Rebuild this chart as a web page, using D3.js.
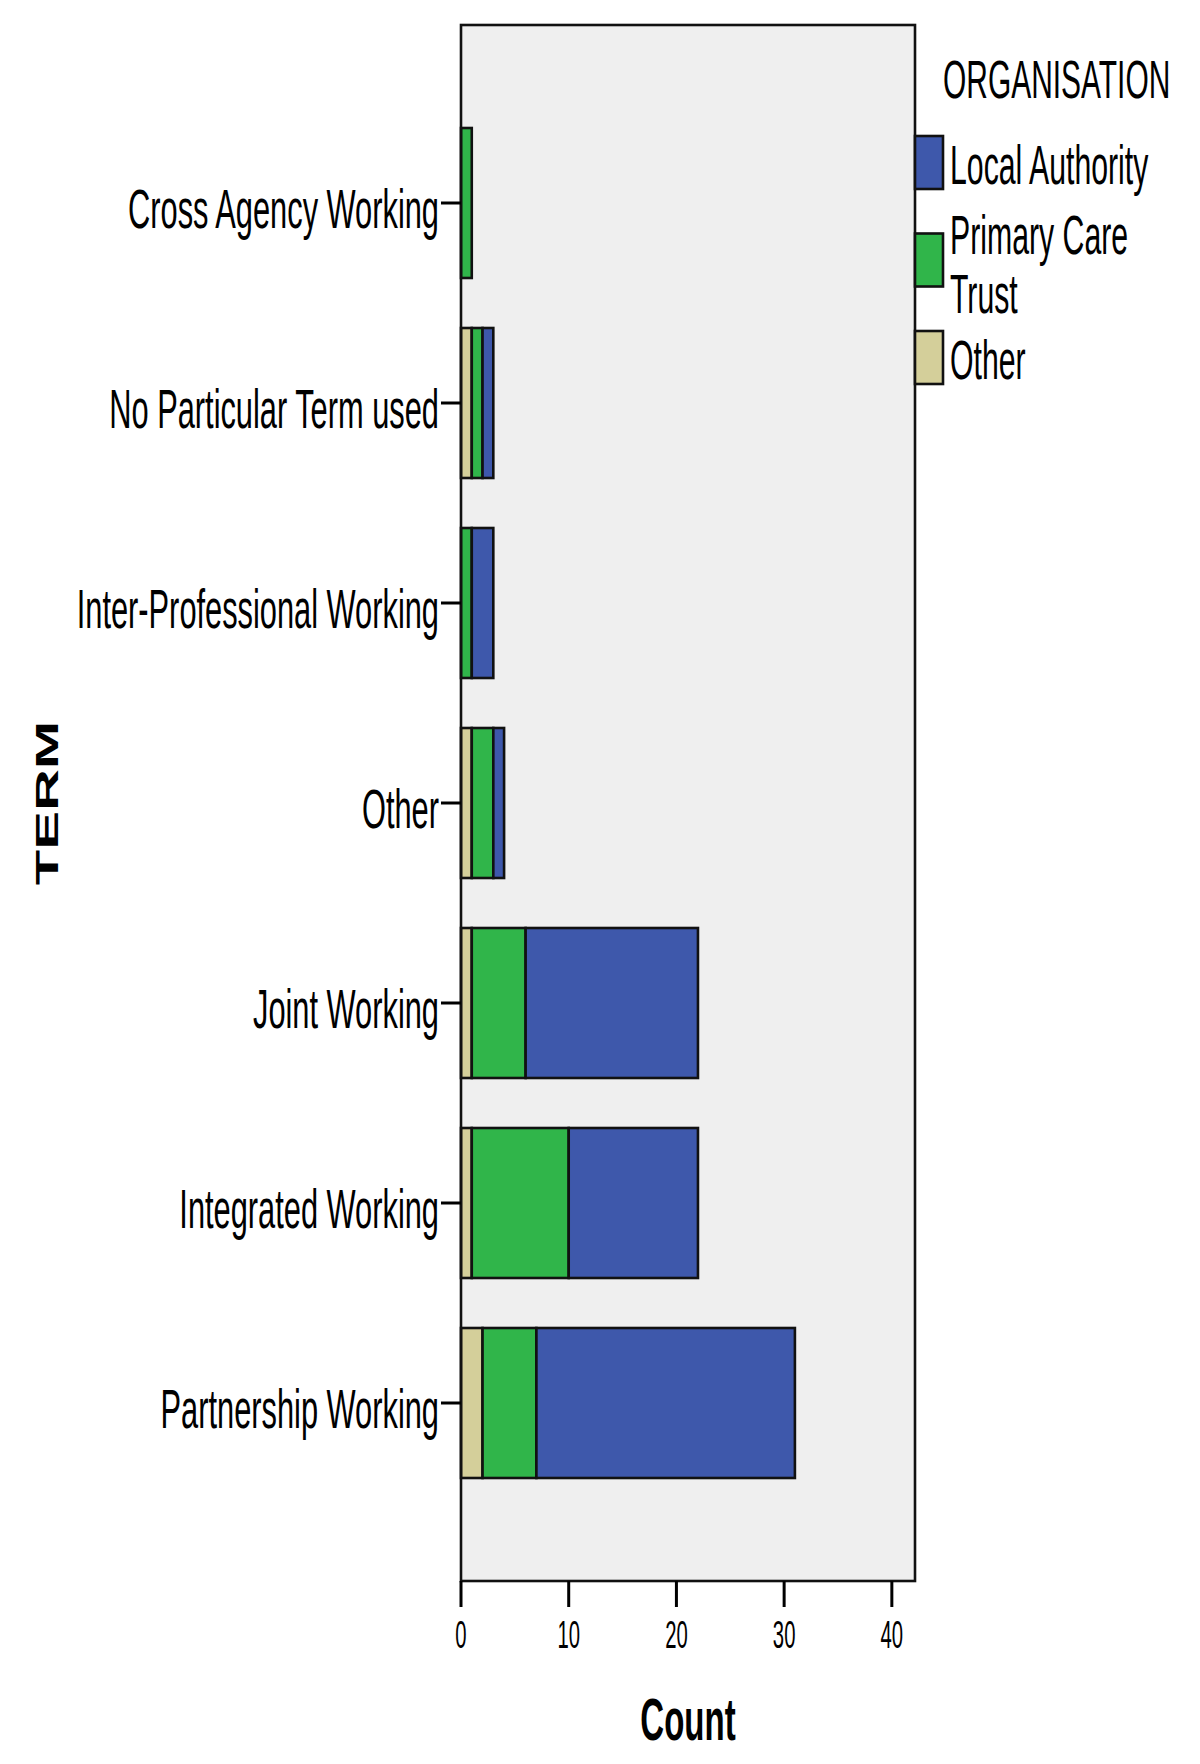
<!DOCTYPE html>
<html lang="en">
<head>
    <meta charset="UTF-8">
    <title>TERM by ORGANISATION</title>
    <script src="https://d3js.org/d3.v7.min.js"></script>
    <style>
        body { margin: 0; background: #fff; }
        text { font-family: "Liberation Sans", Arial, sans-serif; fill: #000; }
    </style>
</head>
<body>

<script>
    // categories (top to bottom) and counts per organisation
    var terms = ["Cross Agency Working", "No Particular Term used", "Inter-Professional Working",
                 "Other", "Joint Working", "Integrated Working", "Partnership Working"];
    var otherOrg   = [0, 1, 0, 1, 1, 1, 2];
    var primaryCare = [1, 1, 1, 2, 5, 9, 5];
    var localAuth  = [0, 1, 2, 1, 16, 12, 24];
    var xTicks = [0, 10, 20, 30, 40];

    // stacking order: Other first, then PCT, then LA
    var keys = ["Other", "Primary Care Trust", "Local Authority"];
    var colors = { "Local Authority": "#3e58ab", "Primary Care Trust": "#30b54a", "Other": "#d4cf9a" };
    var legendItems = [
        { key: "Local Authority", lines: ["Local Authority"] },
        { key: "Primary Care Trust", lines: ["Primary Care", "Trust"] },
        { key: "Other", lines: ["Other"] }
    ];

    var rows = terms.map((t, i) => ({
        term: t,
        "Other": otherOrg[i],
        "Primary Care Trust": primaryCare[i],
        "Local Authority": localAuth[i]
    }));

    var W = 1200, H = 1764;
    var plot = { left: 461, right: 915, top: 25, bottom: 1581 };
    var sx = 0.55; // the original chart is squashed horizontally

    var svg = d3.select("body").append("svg")
        .attr("width", W)
        .attr("height", H);

    var x = d3.scaleLinear().domain([0, 42.15]).range([plot.left, plot.right]);
    var y = d3.scaleBand().domain(terms).range([plot.top, plot.bottom])
        .paddingInner(0.25).paddingOuter(0.515);

    // plot background
    svg.append("rect")
        .attr("x", plot.left).attr("y", plot.top)
        .attr("width", plot.right - plot.left).attr("height", plot.bottom - plot.top)
        .attr("fill", "#efefef");

    // stacked bars
    var stacked = d3.stack().keys(keys)(rows);
    svg.append("g").selectAll("g")
        .data(stacked)
        .enter().append("g")
        .attr("fill", d => colors[d.key])
        .selectAll("rect")
        .data(d => d.filter(s => s[1] - s[0] > 0))
        .enter().append("rect")
        .attr("x", d => x(d[0]))
        .attr("y", d => y(d.data.term))
        .attr("width", d => x(d[1]) - x(d[0]))
        .attr("height", y.bandwidth())
        .attr("stroke", "#111")
        .attr("stroke-width", 2.6);

    // frame
    svg.append("rect")
        .attr("x", plot.left).attr("y", plot.top)
        .attr("width", plot.right - plot.left).attr("height", plot.bottom - plot.top)
        .attr("fill", "none")
        .attr("stroke", "#111")
        .attr("stroke-width", 2.6);

    // y axis ticks + labels
    var yAxis = svg.append("g");
    terms.forEach(t => {
        var cy = y(t) + y.bandwidth() / 2;
        yAxis.append("line")
            .attr("x1", plot.left - 20).attr("x2", plot.left)
            .attr("y1", cy).attr("y2", cy)
            .attr("stroke", "#000").attr("stroke-width", 3);
        yAxis.append("text")
            .attr("transform", "translate(" + (plot.left - 22) + "," + (cy + 25) + ") scale(" + sx + ",1)")
            .attr("text-anchor", "end")
            .style("font-size", "56px")
            .text(t);
    });

    // x axis ticks + labels
    var xAxis = svg.append("g");
    xTicks.forEach(v => {
        xAxis.append("line")
            .attr("x1", x(v)).attr("x2", x(v))
            .attr("y1", plot.bottom).attr("y2", plot.bottom + 26)
            .attr("stroke", "#000").attr("stroke-width", 3);
        xAxis.append("text")
            .attr("transform", "translate(" + x(v) + "," + (plot.bottom + 67) + ") scale(0.52,1)")
            .attr("text-anchor", "middle")
            .style("font-size", "39px")
            .text(v);
    });

    // axis titles
    svg.append("text")
        .attr("transform", "translate(" + ((plot.left + plot.right) / 2) + ",1740) scale(" + sx + ",1)")
        .attr("text-anchor", "middle")
        .style("font-size", "60px")
        .style("font-weight", "bold")
        .text("Count");

    svg.append("text")
        .attr("transform", "translate(58,803) scale(" + sx + ",1) rotate(-90)")
        .attr("text-anchor", "middle")
        .style("font-size", "58px")
        .style("font-weight", "bold")
        .text("TERM");

    // legend
    var legend = svg.append("g");
    legend.append("text")
        .attr("transform", "translate(943,98) scale(0.565,1)")
        .style("font-size", "53px")
        .text("ORGANISATION");

    legendItems.forEach((it, i) => {
        var top = 136 + i * 97.5;
        legend.append("rect")
            .attr("x", plot.right).attr("y", top)
            .attr("width", 28).attr("height", 53)
            .attr("fill", colors[it.key])
            .attr("stroke", "#111").attr("stroke-width", 2.6);
        // wrapped labels start higher than the swatch
        var base = it.lines.length > 1 ? top + 20 : top + 48;
        it.lines.forEach((ln, j) => {
            legend.append("text")
                .attr("transform", "translate(950," + (base + j * 59) + ") scale(0.54,1)")
                .style("font-size", "56px")
                .text(ln);
        });
    });
</script>

</body>
</html>
